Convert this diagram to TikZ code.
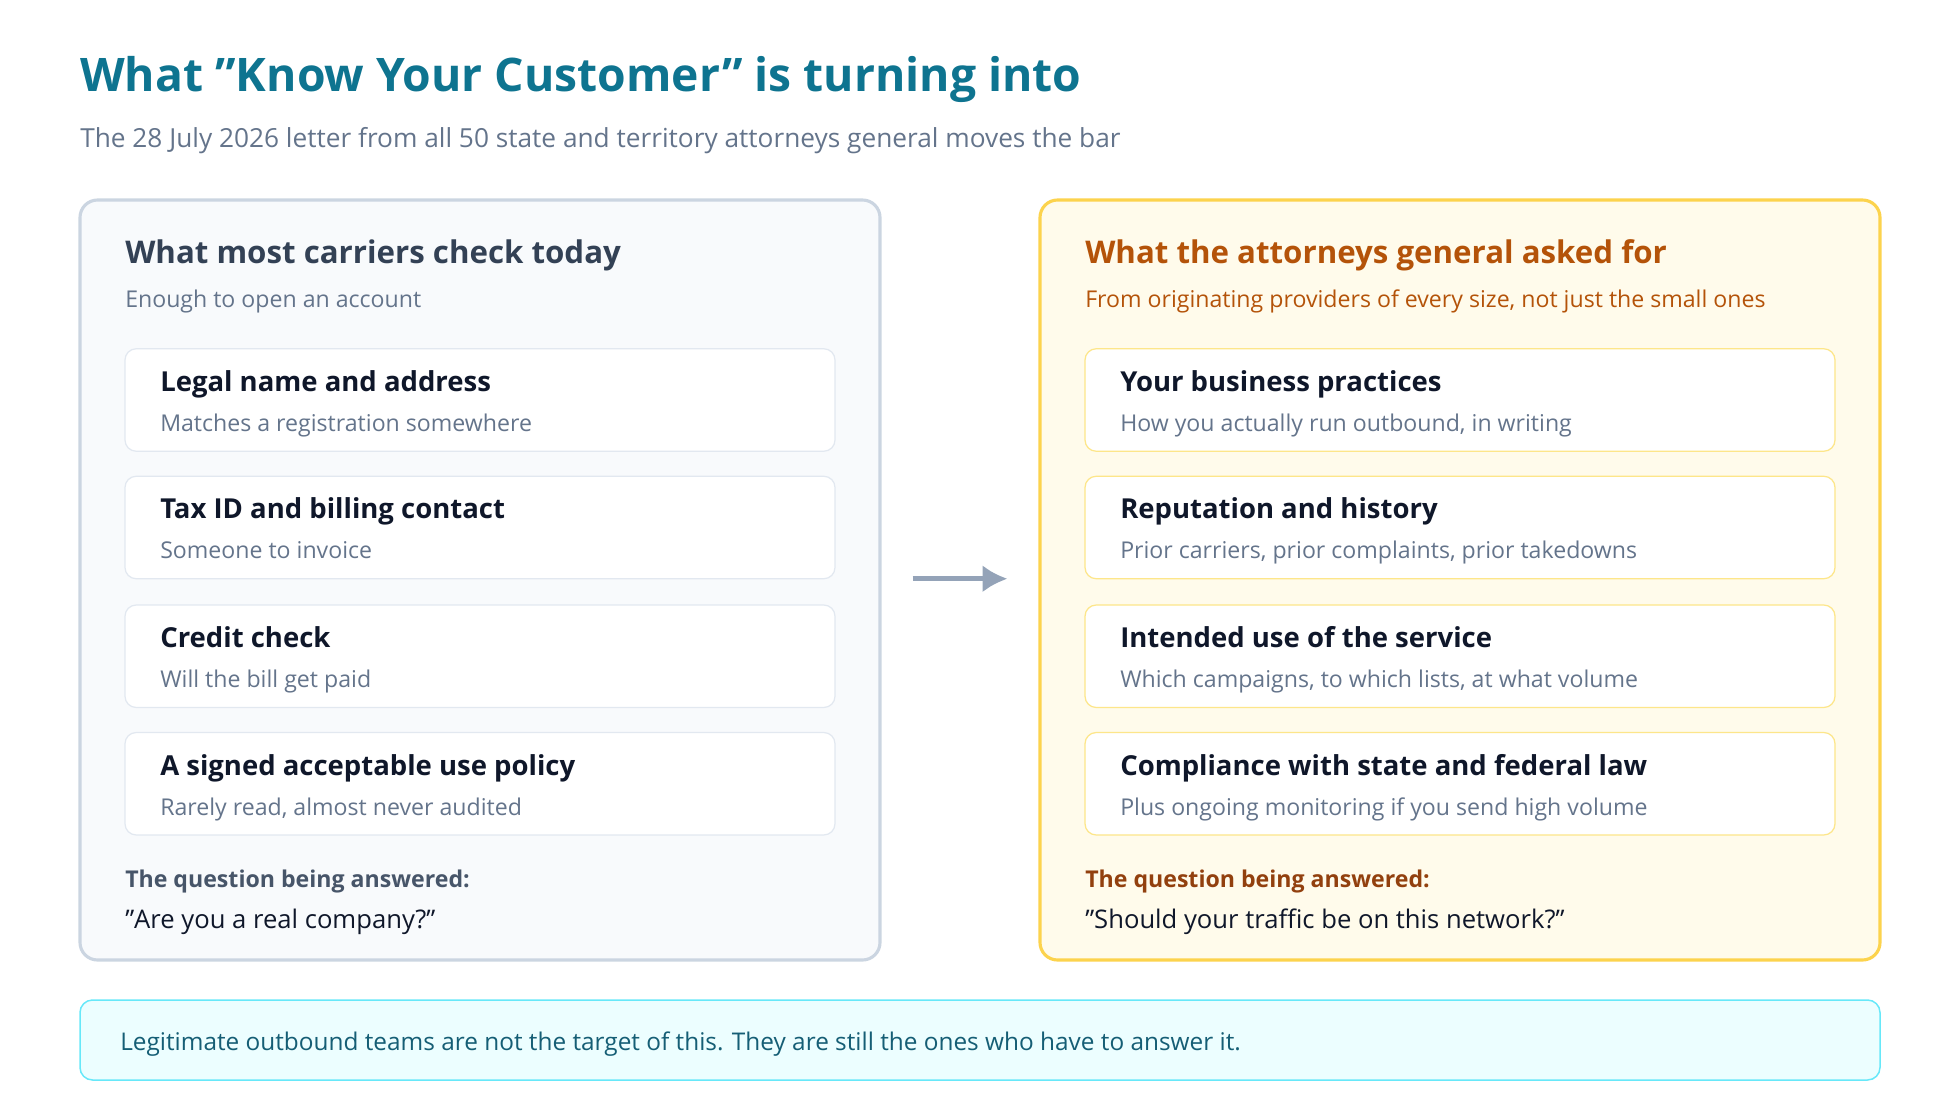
\documentclass[tikz,border=0pt]{standalone}
\usepackage{fontspec}
\usetikzlibrary{arrows.meta}
\setmainfont{Open Sans}
\newcommand\dq{\char34\relax}
\begin{document}
\begin{tikzpicture}[x=1pt,y=-1pt,
  panelL/.style={draw=slate3,fill=slate0,line width=2.5pt,rounded corners=14pt},
  panelR/.style={draw=amb3,fill=amb0,line width=2.5pt,rounded corners=14pt},
  cardL/.style={draw=slate2,fill=white,line width=1pt,rounded corners=9pt},
  cardR/.style={draw=amb2,fill=white,line width=1pt,rounded corners=9pt},
  txt/.style={anchor=base west,inner sep=0pt},
  ct/.style={txt,font=\fontsize{22}{26}\selectfont\bfseries,text=dark},
  cs/.style={txt,font=\fontsize{18.5}{22}\selectfont,text=gray5},
]
\definecolor{slate0}{HTML}{F8FAFC}\definecolor{slate2}{HTML}{E2E8F0}\definecolor{slate3}{HTML}{CBD5E1}
\definecolor{amb0}{HTML}{FFFBEB}\definecolor{amb2}{HTML}{FDE68A}\definecolor{amb3}{HTML}{FCD34D}
\definecolor{dark}{HTML}{0F172A}\definecolor{gray5}{HTML}{64748B}\definecolor{gray6}{HTML}{475569}
\definecolor{teal}{HTML}{0E7490}\definecolor{head}{HTML}{334155}\definecolor{orng}{HTML}{B45309}
\definecolor{brn}{HTML}{92400E}\definecolor{cy0}{HTML}{ECFEFF}\definecolor{cy3}{HTML}{67E8F9}\definecolor{cy8}{HTML}{155E75}
\definecolor{arr}{HTML}{94A3B8}
\useasboundingbox (0,0) rectangle (1568,896);
\node[txt,font=\fontsize{37}{42}\selectfont\bfseries,text=teal] (title) at (64,73) {What \dq Know Your Customer\dq{} is turning into};
\node[txt,font=\fontsize{21}{24}\selectfont,text=gray5] (sub) at (64,118) {The 28 July 2026 letter from all 50 state and territory attorneys general moves the bar};
\draw[panelL] (64,160) rectangle (704,768);
\draw[panelR] (832,160) rectangle (1504,768);
\node[txt,font=\fontsize{25}{30}\selectfont\bfseries,text=head] (lh) at (100,211) {What most carriers check today};
\node[txt,font=\fontsize{18.5}{22}\selectfont,text=gray5] (ls) at (100,246) {Enough to open an account};
\node[txt,font=\fontsize{25}{30}\selectfont\bfseries,text=orng] (rh) at (868,211) {What the attorneys general asked for};
\node[txt,font=\fontsize{18.5}{22}\selectfont,text=orng] (rs) at (868,246) {From originating providers of every size, not just the small ones};
\foreach \y/\t/\s [count=\i] in {279/Legal name and address/Matches a registration somewhere,
  381/Tax ID and billing contact/Someone to invoice,
  484/Credit check/Will the bill get paid,
  586/A signed acceptable use policy/{Rarely read, almost never audited}}{
  \draw[cardL] (100,\y) rectangle (668,\y+82);
  \node[ct] (lt\i) at (128,\y+34) {\t};
  \node[cs] (lc\i) at (128,\y+66) {\s};
}
\foreach \y/\t/\s [count=\i] in {279/Your business practices/{How you actually run outbound, in writing},
  381/Reputation and history/{Prior carriers, prior complaints, prior takedowns},
  484/Intended use of the service/{Which campaigns, to which lists, at what volume},
  586/Compliance with state and federal law/Plus ongoing monitoring if you send high volume}{
  \draw[cardR] (868,\y) rectangle (1468,\y+82);
  \node[ct] (rt\i) at (896,\y+34) {\t};
  \node[cs] (rc\i) at (896,\y+66) {\s};
}
\node[txt,font=\fontsize{18.5}{22}\selectfont\bfseries,text=gray6] (lq) at (100,710) {The question being answered:};
\node[txt,font=\fontsize{20.5}{24}\selectfont,text=dark] (la) at (100,743) {\dq Are you a real company?\dq};
\node[txt,font=\fontsize{18.5}{22}\selectfont\bfseries,text=brn] (rq) at (868,710) {The question being answered:};
\node[txt,font=\fontsize{20.5}{24}\selectfont,text=dark] (ra) at (868,743) {\dq Should your traffic be on this network?\dq};
\coordinate (a1) at (730,463); \coordinate (a2) at (806,463);
\draw[arr,line width=4pt,-{Latex[length=20pt,width=22pt]}] (a1) -- (a2);
\draw[draw=cy3,fill=cy0,line width=1.2pt,rounded corners=10pt] (64,800) rectangle (1504,864);
\node[txt,font=\fontsize{19.5}{23}\selectfont,text=cy8] (ban) at (96,840) {Legitimate outbound teams are not the target of this. They are still the ones who have to answer it.};
\end{tikzpicture}
\end{document}
